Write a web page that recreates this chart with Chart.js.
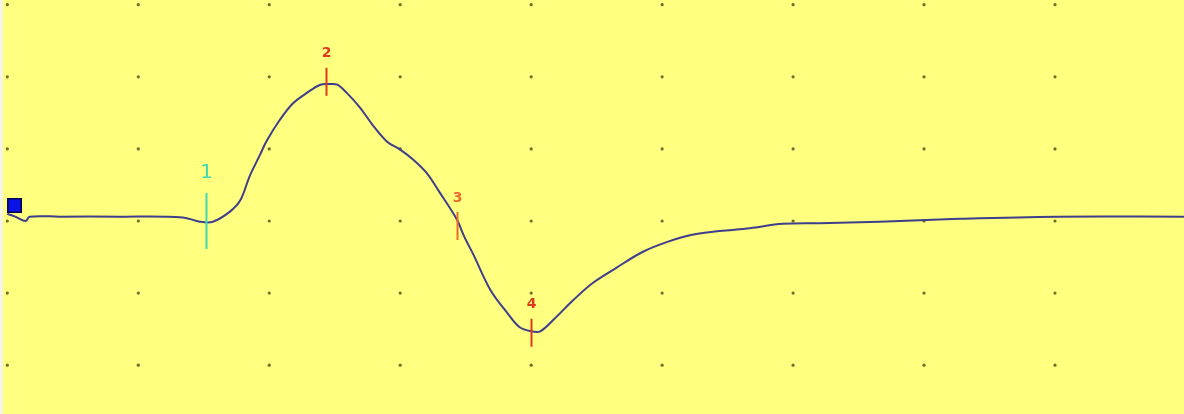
<!DOCTYPE html>
<html>
<head>
<meta charset="utf-8">
<script src="https://cdn.jsdelivr.net/npm/chart.js@4.4.1/dist/chart.umd.min.js"></script>
<style>
  html, body { margin: 0; padding: 0; background: #f4f4e8; }
  #wrap { position: absolute; left: 3px; top: 0; width: 1181px; height: 414px; }
</style>
</head>
<body>
<div id="wrap"><canvas id="trace" width="1181" height="414"></canvas></div>
<script>
// Trace: time in divisions, amplitude in divisions
const traceTime = [
  0.00, 0.06, 0.14, 0.17, 0.40, 0.86, 1.34, 1.47, 1.57, 1.70,
  1.78, 1.85, 1.93, 1.98, 2.08, 2.18, 2.29, 2.39, 2.46, 2.52,
  2.59, 2.69, 2.79, 2.90, 3.00, 3.10, 3.20, 3.30, 3.43, 3.49,
  3.56, 3.69, 3.82, 3.91, 4.00, 4.07, 4.17, 4.32, 4.47, 4.65,
  4.85, 5.04, 5.23, 5.44, 5.67, 5.92, 6.20, 6.66, 7.27, 8.01, 8.99
];
const traceValue = [
  0.10, 0.06, 0.00, 0.06, 0.06, 0.06, 0.05, -0.01, -0.01, 0.13,
  0.29, 0.62, 0.92, 1.11, 1.40, 1.63, 1.78, 1.89, 1.90, 1.89,
  1.78, 1.58, 1.33, 1.10, 0.99, 0.85, 0.67, 0.40, 0.03, -0.22,
  -0.47, -0.96, -1.28, -1.47, -1.53, -1.53, -1.37, -1.10, -0.86, -0.65,
  -0.43, -0.29, -0.19, -0.14, -0.10, -0.04, -0.03, -0.01, 0.03, 0.06, 0.06
];

// Cursor markers
const markerLabels = ['1', '2', '3', '4'];
const markerTime = [1.52, 2.43, 3.43, 4.00];
const markerValue = [0.00, 1.93, -0.07, -1.55];
const markerColors = ['#3fd8b6', '#dc3a1e', '#ec6a2c', '#dc3a1e'];

// Sweep handle at trace start
const handleTime = [0.055];
const handleValue = [0.215];

const xMin = -0.033, xMax = 8.985;
const yMin = -2.677, yMax = 3.065;

// Grid dots at each division crossing
const gridDots = {
  id: 'gridDots',
  beforeDatasetsDraw(chart) {
    const { ctx, scales: { x, y } } = chart;
    ctx.save();
    ctx.fillStyle = '#6e6e28';
    for (let i = Math.ceil(xMin); i <= xMax; i++) {
      for (let j = Math.ceil(yMin); j <= yMax; j++) {
        ctx.beginPath();
        ctx.arc(x.getPixelForValue(i), y.getPixelForValue(j), 1.6, 0, Math.PI * 2);
        ctx.fill();
      }
    }
    ctx.restore();
  }
};

// Numbered cursor ticks
const cursors = {
  id: 'cursors',
  afterDatasetsDraw(chart) {
    const { ctx, scales: { x, y } } = chart;
    ctx.save();
    ctx.textAlign = 'center';
    ctx.textBaseline = 'middle';
    markerLabels.forEach((label, i) => {
      const px = Math.round(x.getPixelForValue(markerTime[i])) + 0.5;
      const py = y.getPixelForValue(markerValue[i]);
      const half = i === 0 ? 28 : 14;
      ctx.strokeStyle = markerColors[i];
      ctx.lineWidth = 2;
      ctx.beginPath();
      ctx.moveTo(px, py - half);
      ctx.lineTo(px, py + half);
      ctx.stroke();
      ctx.fillStyle = markerColors[i];
      if (i === 0) {
        ctx.font = '20px "DejaVu Sans", sans-serif';
        ctx.fillText(label, px, py - half - 20);
      } else {
        ctx.font = 'bold 14px "DejaVu Sans", sans-serif';
        ctx.fillText(label, px, py - half - 14);
      }
    });
    ctx.restore();
  }
};

const background = {
  id: 'background',
  beforeDraw(chart) {
    const { ctx, width, height } = chart;
    ctx.save();
    ctx.fillStyle = '#ffff80';
    ctx.fillRect(0, 0, width, height);
    ctx.restore();
  }
};

new Chart(document.getElementById('trace'), {
  type: 'scatter',
  data: {
    datasets: [
      {
        label: 'Trace',
        data: traceTime.map((t, i) => ({ x: t, y: traceValue[i] })),
        showLine: true,
        borderColor: '#3e3e8c',
        borderWidth: 2,
        pointRadius: 0,
        tension: 0.35
      },
      {
        label: 'Handle',
        data: handleTime.map((t, i) => ({ x: t, y: handleValue[i] })),
        pointStyle: 'rect',
        pointRadius: 9.5,
        backgroundColor: '#0a14e6',
        borderColor: '#00004a',
        borderWidth: 1.5
      }
    ]
  },
  options: {
    responsive: false,
    animation: false,
    layout: { padding: 0, autoPadding: false },
    plugins: {
      legend: { display: false },
      tooltip: { enabled: false }
    },
    scales: {
      x: { type: 'linear', min: xMin, max: xMax, display: false },
      y: { type: 'linear', min: yMin, max: yMax, display: false }
    }
  },
  plugins: [background, gridDots, cursors]
});
</script>
</body>
</html>
